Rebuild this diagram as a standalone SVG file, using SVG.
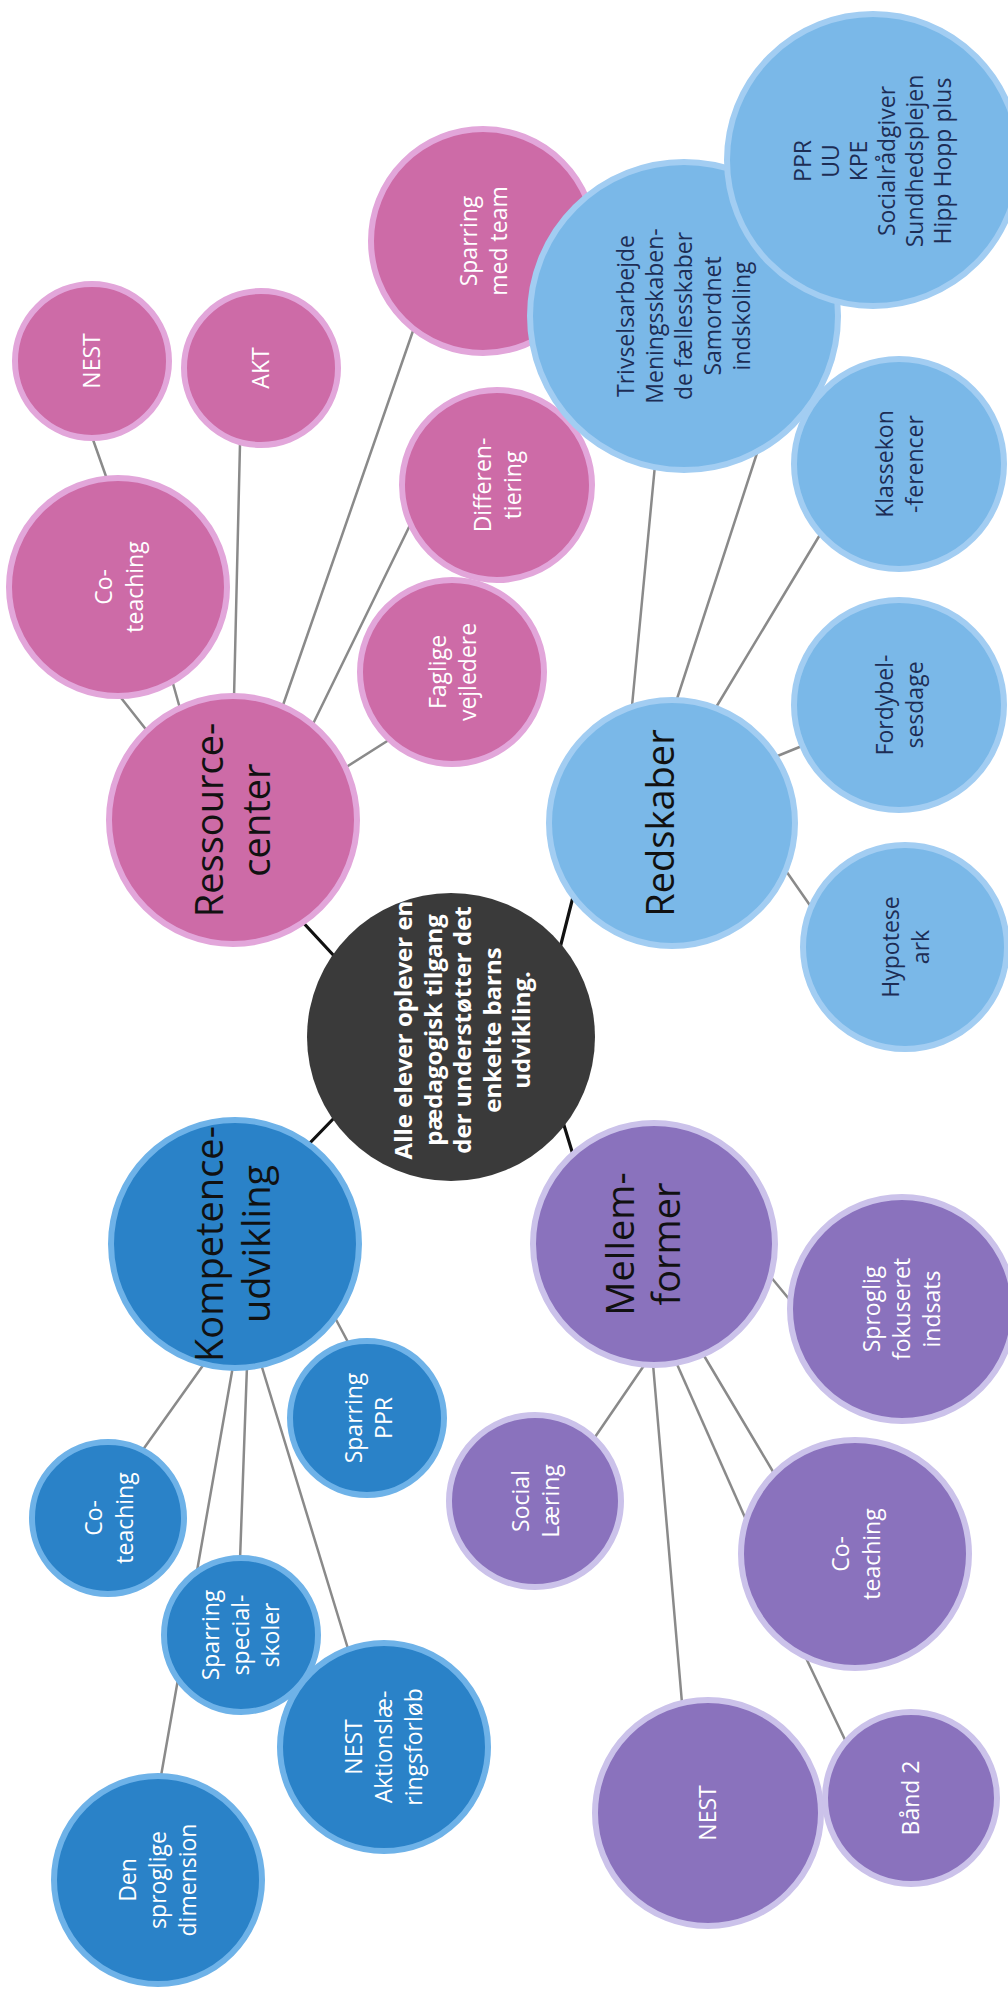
<svg xmlns="http://www.w3.org/2000/svg" width="1008" height="1993" viewBox="0 0 1008 1993">
<style>
.conn line{stroke:#8a8a8a;stroke-width:2.5;stroke-linecap:round}
.conn line.k{stroke:#111;stroke-width:3.2}
.pink{fill:#cd6ba7;stroke:#e2a6da;stroke-width:6}
.lblue{fill:#7ab8e8;stroke:#a2cdf2;stroke-width:6}
.dblue{fill:#2a82c8;stroke:#6eb2e8;stroke-width:6}
.purple{fill:#8a72bd;stroke:#cbc2ea;stroke-width:6}
.core{fill:#3a3a3a}
text{font-family:"Open Sans","Noto Sans","DejaVu Sans",sans-serif;text-anchor:middle}
.sub{font-size:23px;fill:#ffffff}
.subd{font-size:23px;fill:#1d2d55}
.main{font-size:38px;fill:#111111}
.coret{font-size:24px;font-weight:bold;fill:#ffffff}
</style>
<rect x="0" y="0" width="1008" height="1993" fill="#ffffff"/>
<g id="connectors" class="conn">
<line class="k" x1="298" y1="917" x2="336" y2="958"/>
<line class="k" x1="574" y1="893" x2="560" y2="948"/>
<line class="k" x1="336" y1="1116" x2="306" y2="1147"/>
<line class="k" x1="563" y1="1122" x2="574" y2="1158"/>
<line x1="91" y1="434" x2="108" y2="482"/>
<line x1="118" y1="694" x2="148" y2="732"/>
<line x1="172" y1="680" x2="181" y2="712"/>
<line x1="240" y1="444" x2="234" y2="698"/>
<line x1="414" y1="328" x2="282" y2="708"/>
<line x1="412" y1="521" x2="311" y2="728"/>
<line x1="340" y1="771" x2="392" y2="738"/>
<line x1="655" y1="465" x2="632" y2="706"/>
<line x1="758" y1="450" x2="676" y2="702"/>
<line x1="821" y1="533" x2="715" y2="709"/>
<line x1="775" y1="757" x2="802" y2="746"/>
<line x1="784" y1="868" x2="816" y2="914"/>
<line x1="333" y1="1314" x2="349" y2="1344"/>
<line x1="204" y1="1364" x2="142" y2="1451"/>
<line x1="233" y1="1366" x2="161" y2="1776"/>
<line x1="247" y1="1366" x2="240" y2="1560"/>
<line x1="261" y1="1364" x2="349" y2="1652"/>
<line x1="770" y1="1276" x2="794" y2="1305"/>
<line x1="645" y1="1364" x2="593" y2="1440"/>
<line x1="653" y1="1364" x2="682" y2="1703"/>
<line x1="676" y1="1362" x2="747" y2="1522"/>
<line x1="703" y1="1354" x2="775" y2="1475"/>
<line x1="806" y1="1658" x2="847" y2="1744"/>
</g>

<g id="nest-pink"><circle class="pink" cx="92" cy="361" r="77"/>
<text class="sub" transform="translate(92 361) rotate(-90)"><tspan x="0" y="8">NEST</tspan></text></g>
<g id="akt"><circle class="pink" cx="261" cy="368" r="77"/>
<text class="sub" transform="translate(261 368) rotate(-90)"><tspan x="0" y="8">AKT</tspan></text></g>
<g id="sparring-team"><circle class="pink" cx="483" cy="241" r="112"/>
<text class="sub" transform="translate(483 241) rotate(-90)"><tspan x="0" y="-6">Sparring</tspan><tspan x="0" y="24">med team</tspan></text></g>
<g id="coteaching-pink"><circle class="pink" cx="118" cy="587" r="109"/>
<text class="sub" transform="translate(118 587) rotate(-90)"><tspan x="0" y="-6">Co-</tspan><tspan x="0" y="25">teaching</tspan></text></g>
<g id="differentiering"><circle class="pink" cx="497" cy="485" r="95"/>
<text class="sub" transform="translate(497 485) rotate(-90)"><tspan x="0" y="-6">Differen-</tspan><tspan x="0" y="24">tiering</tspan></text></g>
<g id="faglige"><circle class="pink" cx="452" cy="672" r="92"/>
<text class="sub" transform="translate(452 672) rotate(-90)"><tspan x="0" y="-6">Faglige</tspan><tspan x="0" y="24">vejledere</tspan></text></g>
<g id="ressourcecenter"><circle class="pink" cx="233" cy="820" r="124"/>
<text class="main" transform="translate(233 820) rotate(-90)"><tspan x="0" y="-10">Ressource-</tspan><tspan x="0" y="37">center</tspan></text></g>

<g id="trivsel"><circle class="lblue" cx="684" cy="316" r="154"/>
<text class="subd" transform="translate(684 316) rotate(-90)"><tspan x="0" y="-50">Trivselsarbejde</tspan><tspan x="0" y="-21">Meningsskaben-</tspan><tspan x="0" y="8">de fællesskaber</tspan><tspan x="0" y="37">Samordnet</tspan><tspan x="0" y="66">indskoling</tspan></text></g>
<g id="ppr"><circle class="lblue" cx="873" cy="160" r="146"/>
<text class="subd" transform="translate(873 161) rotate(-90)"><tspan x="0" y="-62">PPR</tspan><tspan x="0" y="-34">UU</tspan><tspan x="0" y="-6">KPE</tspan><tspan x="0" y="22">Socialrådgiver</tspan><tspan x="0" y="50">Sundhedsplejen</tspan><tspan x="0" y="78">Hipp Hopp plus</tspan></text></g>
<g id="klassekonferencer"><circle class="lblue" cx="899" cy="464" r="105"/>
<text class="subd" transform="translate(899 464) rotate(-90)"><tspan x="0" y="-6">Klassekon</tspan><tspan x="0" y="24">-ferencer</tspan></text></g>
<g id="fordybelsesdage"><circle class="lblue" cx="899" cy="705" r="105"/>
<text class="subd" transform="translate(899 705) rotate(-90)"><tspan x="0" y="-6">Fordybel-</tspan><tspan x="0" y="24">sesdage</tspan></text></g>
<g id="hypotese"><circle class="lblue" cx="905" cy="947" r="102"/>
<text class="subd" transform="translate(905 947) rotate(-90)"><tspan x="0" y="-6">Hypotese</tspan><tspan x="0" y="24">ark</tspan></text></g>
<g id="redskaber"><circle class="lblue" cx="672" cy="823" r="123"/>
<text class="main" transform="translate(672 823) rotate(-90)"><tspan x="0" y="2">Redskaber</tspan></text></g>

<g id="center"><circle class="core" cx="451" cy="1037" r="144"/>
<text class="coret" transform="translate(451 1030) rotate(-90)"><tspan x="0" y="-39">Alle elever oplever en</tspan><tspan x="0" y="-9.5">pædagogisk tilgang</tspan><tspan x="0" y="20">der understøtter det</tspan><tspan x="0" y="49.5">enkelte barns</tspan><tspan x="0" y="79">udvikling.</tspan></text></g>

<g id="kompetenceudvikling"><circle class="dblue" cx="235" cy="1244" r="124"/>
<text class="main" transform="translate(235 1244) rotate(-90)"><tspan x="0" y="-12">Kompetence-</tspan><tspan x="0" y="35">udvikling</tspan></text></g>
<g id="sparring-ppr"><circle class="dblue" cx="367" cy="1418" r="77"/>
<text class="sub" transform="translate(367 1418) rotate(-90)"><tspan x="0" y="-5">Sparring</tspan><tspan x="0" y="25">PPR</tspan></text></g>
<g id="coteaching-blue"><circle class="dblue" cx="108" cy="1518" r="76"/>
<text class="sub" transform="translate(108 1518) rotate(-90)"><tspan x="0" y="-6">Co-</tspan><tspan x="0" y="25">teaching</tspan></text></g>
<g id="sparring-specialskoler"><circle class="dblue" cx="241" cy="1635" r="77"/>
<text class="sub" transform="translate(241 1635) rotate(-90)"><tspan x="0" y="-22">Sparring</tspan><tspan x="0" y="8">special-</tspan><tspan x="0" y="38">skoler</tspan></text></g>
<g id="nest-aktion"><circle class="dblue" cx="384" cy="1747" r="104"/>
<text class="sub" transform="translate(384 1747) rotate(-90)"><tspan x="0" y="-22">NEST</tspan><tspan x="0" y="8">Aktionslæ-</tspan><tspan x="0" y="38">ringsforløb</tspan></text></g>
<g id="den-sproglige"><circle class="dblue" cx="158" cy="1880" r="104"/>
<text class="sub" transform="translate(158 1880) rotate(-90)"><tspan x="0" y="-22">Den</tspan><tspan x="0" y="8">sproglige</tspan><tspan x="0" y="38">dimension</tspan></text></g>

<g id="mellemformer"><circle class="purple" cx="654" cy="1244" r="121"/>
<text class="main" transform="translate(654 1244) rotate(-90)"><tspan x="0" y="-20">Mellem-</tspan><tspan x="0" y="26">former</tspan></text></g>
<g id="sproglig"><circle class="purple" cx="902" cy="1309" r="112"/>
<text class="sub" transform="translate(902 1309) rotate(-90)"><tspan x="0" y="-22">Sproglig</tspan><tspan x="0" y="8">fokuseret</tspan><tspan x="0" y="38">indsats</tspan></text></g>
<g id="social"><circle class="purple" cx="535" cy="1501" r="86"/>
<text class="sub" transform="translate(535 1501) rotate(-90)"><tspan x="0" y="-6">Social</tspan><tspan x="0" y="24">Læring</tspan></text></g>
<g id="coteaching-purple"><circle class="purple" cx="855" cy="1554" r="114"/>
<text class="sub" transform="translate(855 1554) rotate(-90)"><tspan x="0" y="-6">Co-</tspan><tspan x="0" y="25">teaching</tspan></text></g>
<g id="nest-purple"><circle class="purple" cx="708" cy="1813" r="113"/>
<text class="sub" transform="translate(708 1813) rotate(-90)"><tspan x="0" y="8">NEST</tspan></text></g>
<g id="baand2"><circle class="purple" cx="911" cy="1798" r="86"/>
<text class="sub" transform="translate(911 1798) rotate(-90)"><tspan x="0" y="8">Bånd 2</tspan></text></g>
</svg>
